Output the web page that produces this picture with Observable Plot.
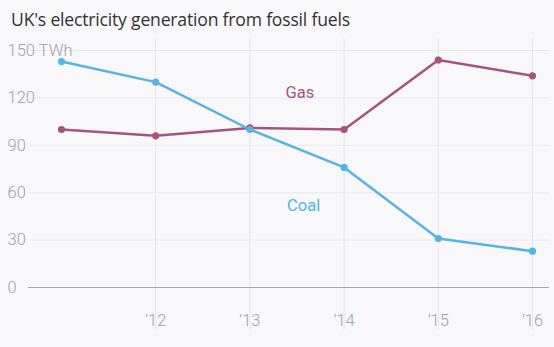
<!DOCTYPE html>
<html><head><meta charset="utf-8">
<script src="https://cdn.jsdelivr.net/npm/d3@7"></script>
<script src="https://cdn.jsdelivr.net/npm/@observablehq/plot@0.6"></script>
<style>
html,body{margin:0;padding:0;background:#f8f7fa;}
#wrap{width:554px;height:347px;overflow:hidden;background:#f8f7fa;font-family:Roboto,"Open Sans",sans-serif;}
#title{height:34px;box-sizing:border-box;padding:7px 0 0 11px;font-family:"Open Sans",Lato,sans-serif;font-size:17.6px;color:#333;letter-spacing:-0.2px;}
</style></head>
<body><div id="wrap"><div id="title">UK's electricity generation from fossil fuels</div><div id="chart"></div></div>
<script>
const years = [2011, 2012, 2013, 2014, 2015, 2016];
const coal = [143, 130, 100, 76, 31, 23];
const gas = [100, 96, 101, 100, 144, 134];
const yTicks = [0, 30, 60, 90, 120, 150];
const xTicks = [2012, 2013, 2014, 2015, 2016];
const xTickLabels = ["\u201912", "\u201913", "\u201914", "\u201915", "\u201916"];
const seriesNames = ["Gas", "Coal"];
const seriesColors = ["#a4547f", "#53b5e0"];
const labelX = [2013.53, 2013.57];
const labelY = [123, 52];

const rows = [];
years.forEach((yr, i) => {
  rows.push({year: yr, value: gas[i], series: "Gas"});
  rows.push({year: yr, value: coal[i], series: "Coal"});
});
const labels = seriesNames.map((s, i) => ({series: s, x: labelX[i], y: labelY[i]}));

const chart = Plot.plot({
  width: 554,
  height: 313,
  marginTop: 4,
  marginBottom: 17,
  marginLeft: 61,
  marginRight: 22,
  style: {background: "transparent", fontFamily: "Roboto, sans-serif"},
  x: {domain: [2011, 2016]},
  y: {domain: [0, 150], range: [253, 16]},
  color: {domain: seriesNames, range: seriesColors},
  marks: [
    Plot.gridX(xTicks, {stroke: "#e6e4ea", strokeOpacity: 1, strokeWidth: 1}),
    Plot.gridY(yTicks.filter(d => d > 0), {stroke: "#ebe9ee", strokeOpacity: 1, insetLeft: -31, insetRight: -17}),
    Plot.ruleY([0], {stroke: "#a9a9ad", strokeWidth: 1.2, insetLeft: -33, insetRight: -17}),
    Plot.axisY(yTicks, {tickSize: 0, textAnchor: "start", dx: -45, fontSize: 16.5, fill: "#a3a3a6", fontWeight: 300,
      tickFormat: d => d === 150 ? "150 TWh" : String(d)}),
    Plot.axisX(xTicks, {tickSize: 0, fontSize: 16.5, fill: "#a3a3a6", fontWeight: 300, dy: -25,
      tickFormat: (d, i) => xTickLabels[xTicks.indexOf(d)]}),
    Plot.line(rows, {x: "year", y: "value", z: "series", stroke: "series", strokeWidth: 2.5}),
    Plot.dot(rows, {x: "year", y: "value", fill: "series", r: 3.6}),
    Plot.text(labels, {x: "x", y: "y", text: "series", fill: "series", fontSize: 16.5, fontWeight: 400})
  ]
});
document.getElementById("chart").appendChild(chart);
</script>
</body></html>
